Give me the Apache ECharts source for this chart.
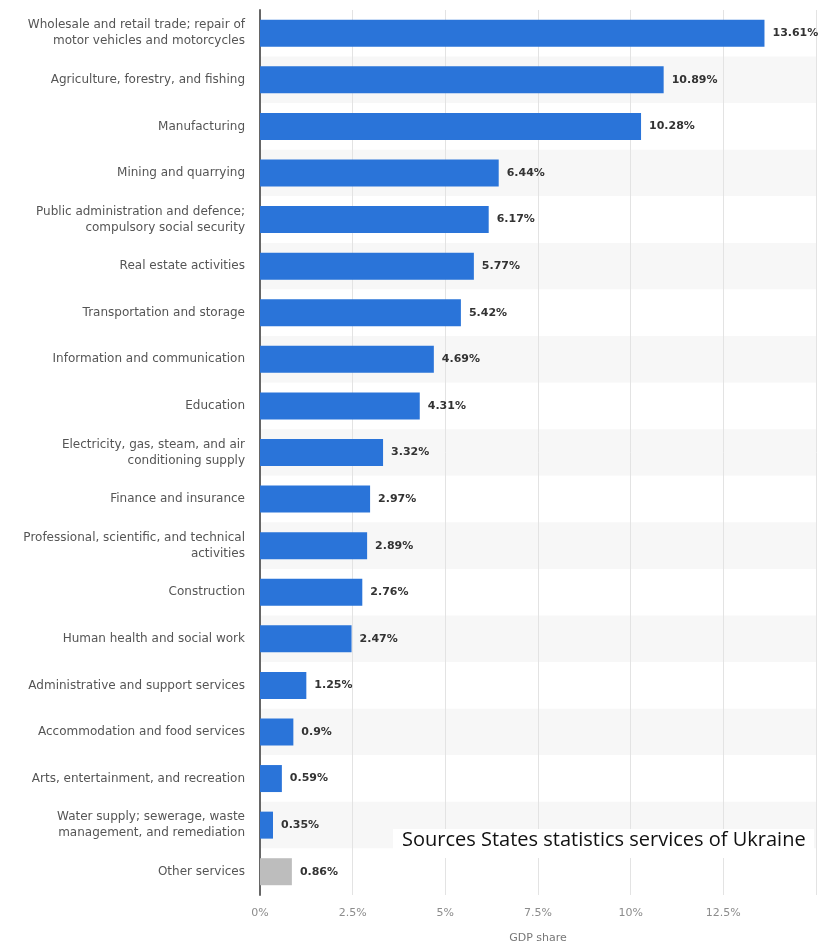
<!DOCTYPE html>
<html>
<head>
<meta charset="utf-8">
<script src="https://cdn.jsdelivr.net/npm/echarts@6/dist/echarts.min.js"></script>
<style>
  html, body { margin: 0; padding: 0; background: #fff; }
  #chart { width: 819px; height: 949px; }
</style>
</head>
<body>
<div id="chart"></div>
<script>
// GDP share by economic activity, Ukraine
const categories = [
  'Wholesale and retail trade; repair of\nmotor vehicles and motorcycles',
  'Agriculture, forestry, and fishing',
  'Manufacturing',
  'Mining and quarrying',
  'Public administration and defence;\ncompulsory social security',
  'Real estate activities',
  'Transportation and storage',
  'Information and communication',
  'Education',
  'Electricity, gas, steam, and air\nconditioning supply',
  'Finance and insurance',
  'Professional, scientific, and technical\nactivities',
  'Construction',
  'Human health and social work',
  'Administrative and support services',
  'Accommodation and food services',
  'Arts, entertainment, and recreation',
  'Water supply; sewerage, waste\nmanagement, and remediation',
  'Other services'
];
const shares = [13.61, 10.89, 10.28, 6.44, 6.17, 5.77, 5.42, 4.69, 4.31, 3.32,
                2.97, 2.89, 2.76, 2.47, 1.25, 0.9, 0.59, 0.35, 0.86];
// the residual category is shown in grey
const greyCategories = ['Other services'];
const axisTicks = [0, 2.5, 5, 7.5, 10, 12.5];
const sourceNote = 'Sources States statistics services of Ukraine';

const BLUE = '#2a74d9';
const GREY = '#bdbdbd';
const FONT = '"DejaVu Sans", Verdana, sans-serif';

const chart = echarts.init(document.getElementById('chart'), null, { renderer: 'canvas' });

chart.setOption({
  animation: false,
  backgroundColor: '#ffffff',
  grid: { left: 260, right: 2, top: 10, bottom: 49, containLabel: false },
  xAxis: {
    type: 'value',
    min: 0,
    max: 15,
    interval: 2.5,
    name: 'GDP share',
    nameLocation: 'middle',
    nameGap: 38,
    nameTextStyle: { color: '#777', fontSize: 11, fontFamily: FONT },
    axisLine: { show: false },
    axisTick: { show: false },
    axisLabel: {
      color: '#8c8c8c',
      fontSize: 11,
      fontFamily: FONT,
      margin: 13,
      formatter: v => axisTicks.includes(v) ? v + '%' : ''
    },
    splitLine: { show: true, lineStyle: { color: '#e3e3e3', width: 1 } }
  },
  yAxis: {
    type: 'category',
    data: categories,
    inverse: true,
    axisLine: { show: true, lineStyle: { color: '#666', width: 2 } },
    axisTick: { show: false },
    axisLabel: {
      color: '#555',
      fontSize: 12,
      fontFamily: FONT,
      margin: 15,
      lineHeight: 16,
      align: 'right'
    },
    splitArea: { show: true, areaStyle: { color: ['#ffffff', '#f7f7f7'] } }
  },
  series: [{
    type: 'bar',
    data: shares.map((v, i) => ({
      value: v,
      itemStyle: { color: greyCategories.includes(categories[i]) ? GREY : BLUE }
    })),
    barWidth: 27,
    label: {
      show: true,
      position: 'right',
      distance: 8,
      color: '#333',
      fontSize: 11,
      fontWeight: 'bold',
      fontFamily: FONT,
      formatter: p => p.value + '%'
    },
    z: 3
  }],
  graphic: [
    {
      type: 'rect',
      left: 393,
      top: 829,
      z: 100,
      zlevel: 1,
      shape: { width: 421, height: 29 },
      style: { fill: '#ffffff' }
    },
    {
      type: 'text',
      left: 402,
      top: 830,
      z: 101,
      zlevel: 1,
      style: {
        text: sourceNote,
        fill: '#111111',
        font: '20px "Open Sans", sans-serif'
      }
    }
  ]
});
</script>
</body>
</html>
